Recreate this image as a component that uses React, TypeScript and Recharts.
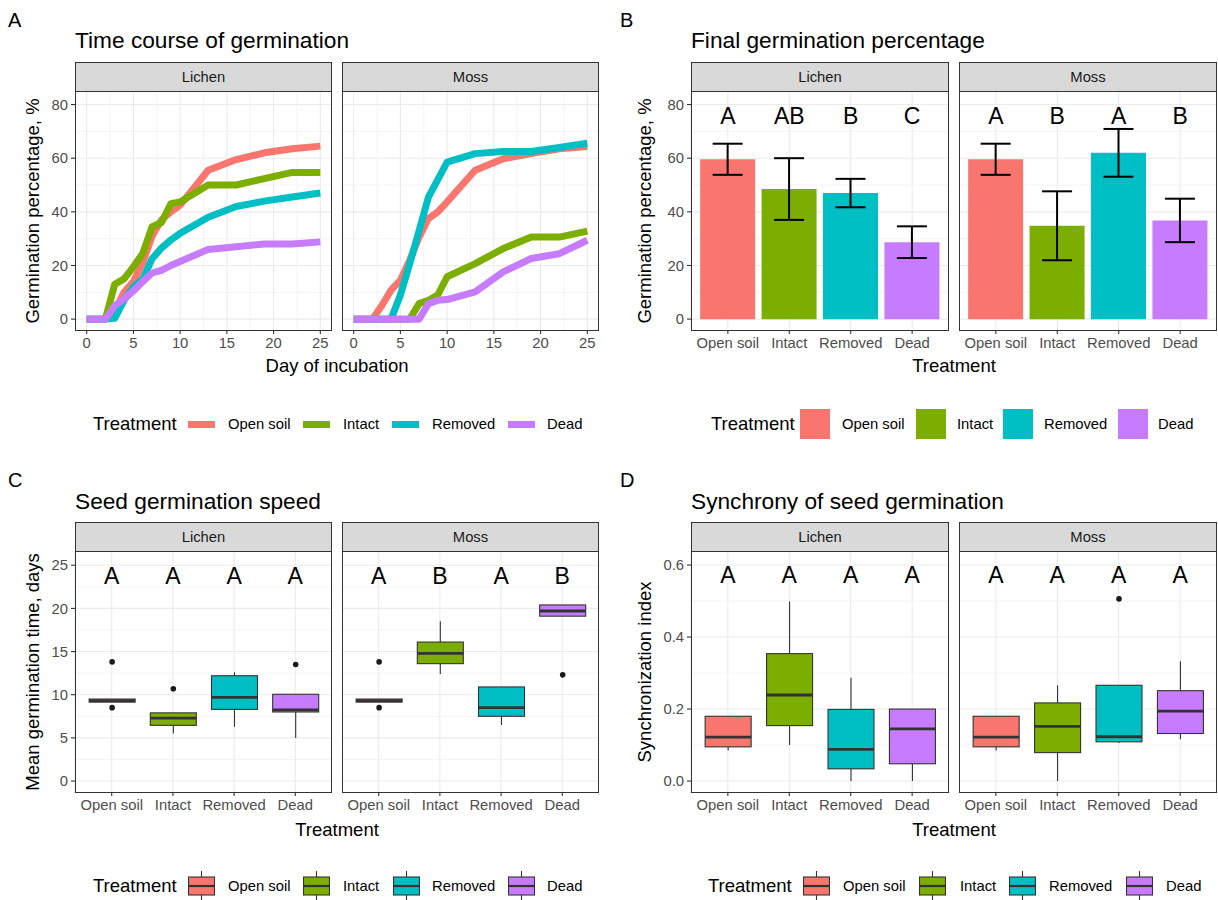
import React from 'react'
import {
  Bar,
  CartesianGrid,
  Cell,
  ComposedChart,
  ErrorBar,
  Line,
  LineChart,
  Scatter,
  XAxis,
  YAxis,
} from 'recharts'

const FONT = '"Liberation Sans", Arial, Helvetica, sans-serif'

const treatments = ['Open soil', 'Intact', 'Removed', 'Dead']
const treatmentColors = ['#F8766D', '#7CAE00', '#00BFC4', '#C77CFF']
const seriesKeys = ['openSoil', 'intact', 'removed', 'dead']

// A - time course of germination (%)
const days = [0, 1, 2, 3, 4, 5, 6, 7, 8, 9, 10, 13, 16, 19, 22, 25]
const lichenOpenSoil = [0, 0, 0, 3, 10, 14, 21, 31, 37, 40, 42.5, 55.5, 59.5, 62, 63.5, 64.5]
const lichenIntact = [0, 0, 0, 13, 15, 19.5, 24.5, 34.5, 36, 43, 43.7, 50, 50, 52.4, 54.7, 54.7]
const lichenRemoved = [0, 0, 0, 0.3, 7, 12, 15, 22.5, 26.5, 29.5, 32, 38, 42, 44, 45.5, 47]
const lichenDead = [0, 0, 0, 5, 7.5, 10.5, 14, 17.2, 18.2, 20, 21.5, 26, 27, 28, 28, 28.8]
const mossOpenSoil = [0, 0, 0, 5, 10.8, 14.5, 22, 30.6, 37.5, 40, 43.7, 55.5, 59.8, 61.7, 63.5, 64.4]
const mossIntact = [0, 0, 0, 0, 0, 0, 0, 5.8, 7, 9, 15.8, 20.7, 26.3, 30.6, 30.6, 32.8]
const mossRemoved = [0, 0, 0, 0, 0, 9, 20.7, 33, 45.5, 52, 58.5, 61.7, 62.5, 62.5, 64, 65.6]
const mossDead = [0, 0, 0, 0, 0, 0, 0, 0, 5.8, 7, 7.3, 10.2, 17.6, 22.6, 24.4, 29.4]
const dayTicks = [0, 5, 10, 15, 20, 25]
const dayMinor = [2.5, 7.5, 12.5, 17.5, 22.5]

// B - final germination percentage
const finalLichenMean = [59.6, 48.5, 47, 28.7]
const finalLichenErr = [5.8, 11.5, 5.3, 5.9]
const finalLichenLetters = ['A', 'AB', 'B', 'C']
const finalMossMean = [59.6, 34.8, 62, 36.8]
const finalMossErr = [5.8, 12.85, 8.9, 8.1]
const finalMossLetters = ['A', 'B', 'A', 'B']
const pctTicks = [0, 20, 40, 60, 80]
const pctMinor = [10, 30, 50, 70]

// C - mean germination time (days), box stats
const mgtLichenLow = [9.15, 5.5, 6.3, 5.0]
const mgtLichenQ1 = [9.15, 6.45, 8.3, 8.0]
const mgtLichenMed = [9.3, 7.3, 9.7, 8.25]
const mgtLichenQ3 = [9.5, 7.9, 12.2, 10.05]
const mgtLichenHigh = [9.5, 7.9, 12.6, 10.05]
const mgtLichenOut = [[13.8, 8.5], [10.7], [], [13.5]]
const mgtLichenLetters = ['A', 'A', 'A', 'A']
const mgtMossLow = [9.15, 12.4, 6.5, 19.1]
const mgtMossQ1 = [9.15, 13.6, 7.5, 19.1]
const mgtMossMed = [9.3, 14.8, 8.5, 19.7]
const mgtMossQ3 = [9.5, 16.1, 10.9, 20.4]
const mgtMossHigh = [9.5, 18.5, 10.9, 20.4]
const mgtMossOut = [[13.8, 8.5], [], [], [12.3]]
const mgtMossLetters = ['A', 'B', 'A', 'B']
const mgtTicks = [0, 5, 10, 15, 20, 25]
const mgtMinor = [2.5, 7.5, 12.5, 17.5, 22.5]

// D - synchronization index, box stats
const synLichenLow = [0.085, 0.1, 0, 0]
const synLichenQ1 = [0.095, 0.154, 0.034, 0.048]
const synLichenMed = [0.122, 0.239, 0.088, 0.145]
const synLichenQ3 = [0.18, 0.354, 0.199, 0.2]
const synLichenHigh = [0.18, 0.499, 0.287, 0.2]
const synLichenOut = [[], [], [], []]
const synLichenLetters = ['A', 'A', 'A', 'A']
const synMossLow = [0.085, 0, 0.106, 0.116]
const synMossQ1 = [0.095, 0.079, 0.109, 0.132]
const synMossMed = [0.122, 0.152, 0.123, 0.194]
const synMossQ3 = [0.18, 0.217, 0.266, 0.251]
const synMossHigh = [0.18, 0.266, 0.266, 0.333]
const synMossOut = [[], [], [0.506], []]
const synMossLetters = ['A', 'A', 'A', 'A']
const synTicks = [0, 0.2, 0.4, 0.6]
const synMinor = [0.1, 0.3, 0.5]

// layout
const YW = 45
const XH = 40
const LEFT = { lichen: 75, moss: 342, w: 257, tag: 8, yTitle: 33, center: 337 }
const RIGHT = { lichen: 691, moss: 959, w: 258, tag: 620, yTitle: 645, center: 954 }
const ROW1 = { tag: 20, title: 40, strip: 62, plotTop: 91, plotBottom: 330, axisTitle: 366, legend: 424 }
const ROW2 = { tag: 480, title: 501, strip: 522, plotTop: 551, plotBottom: 792, axisTitle: 830, legend: 886 }

const tickText = { fill: '#4d4d4d', fontSize: 14.8, fontFamily: FONT }
const tickLineStyle = { stroke: '#333333', strokeWidth: 1.1 }
const margin = { top: 0, right: 0, bottom: 0, left: 0 }

function Txt({ x, y, size, color = '#000', align = 'left', rotate = false, children }: any) {
  const tx = align === 'center' ? '-50%' : align === 'right' ? '-100%' : '0'
  return (
    <div
      style={{
        position: 'absolute',
        left: x,
        top: y,
        fontSize: size,
        lineHeight: 1,
        color,
        whiteSpace: 'nowrap',
        transform: rotate ? 'translate(-50%,-50%) rotate(-90deg)' : `translate(${tx},-50%)`,
      }}
    >
      {children}
    </div>
  )
}

function Strip({ x, top, w, label }: any) {
  return (
    <div
      style={{
        position: 'absolute',
        left: x,
        top,
        width: w,
        height: 30,
        boxSizing: 'border-box',
        background: '#d9d9d9',
        border: '1px solid #333',
        display: 'flex',
        alignItems: 'center',
        justifyContent: 'center',
        fontSize: 14.8,
        color: '#1a1a1a',
      }}
    >
      {label}
    </div>
  )
}

function Frame({ x, top, w, h }: any) {
  return (
    <div
      style={{
        position: 'absolute',
        left: x,
        top,
        width: w,
        height: h,
        boxSizing: 'border-box',
        border: '1px solid #333',
        pointerEvents: 'none',
      }}
    />
  )
}

const LetterShape = (props: any) => (
  <text
    x={props.cx}
    y={props.cy}
    textAnchor="middle"
    dominantBaseline="central"
    fontSize={23}
    fontFamily={FONT}
    fill="#000"
  >
    {props.payload.letter}
  </text>
)

const BoxShape = (props: any) => {
  const { x, y, width, height } = props
  const d = props.payload || props
  const [lo, hi] = d.span
  const top = Math.min(y, y + height)
  const hpx = Math.abs(height)
  const py = (v: number) => top + ((hi - v) / (hi - lo)) * hpx
  const cx = x + width / 2
  return (
    <g>
      <line x1={cx} x2={cx} y1={py(d.high)} y2={py(d.q3)} stroke="#333" strokeWidth={1.1} />
      <line x1={cx} x2={cx} y1={py(d.q1)} y2={py(d.low)} stroke="#333" strokeWidth={1.1} />
      <rect
        x={x}
        y={py(d.q3)}
        width={width}
        height={Math.max(py(d.q1) - py(d.q3), 0.5)}
        fill={d.color}
        stroke="#333"
        strokeWidth={1.1}
      />
      <line x1={x} x2={x + width} y1={py(d.median)} y2={py(d.median)} stroke="#333" strokeWidth={2.8} />
      {d.outliers.map((v: number, i: number) => (
        <circle key={i} cx={cx} cy={py(v)} r={2.8} fill="#1a1a1a" />
      ))}
    </g>
  )
}

function lineRows(series: number[][]) {
  return days.map((day, i) => {
    const row: any = { day }
    seriesKeys.forEach((k, j) => (row[k] = series[j][i]))
    return row
  })
}

function barRows(mean: number[], err: number[], letters: string[], letterY: number) {
  return treatments.map((t, i) => ({ treatment: t, mean: mean[i], err: err[i], letter: letters[i], letterY }))
}

function boxRows(low: number[], q1: number[], med: number[], q3: number[], high: number[], outs: number[][], letters: string[], letterY: number) {
  return treatments.map((t, i) => {
    const all = [low[i], high[i], ...outs[i]]
    return {
      treatment: t,
      color: treatmentColors[i],
      low: low[i],
      q1: q1[i],
      median: med[i],
      q3: q3[i],
      high: high[i],
      outliers: outs[i],
      span: [Math.min(...all), Math.max(...all)],
      letter: letters[i],
      letterY,
    }
  })
}

function yAxisEl(showY: boolean, domain: number[], ticks: number[], fmt?: (v: number) => string) {
  return (
    <YAxis
      type="number"
      hide={!showY}
      width={YW}
      domain={domain}
      ticks={ticks}
      allowDataOverflow
      interval={0}
      axisLine={false}
      tickLine={tickLineStyle}
      tickSize={4}
      tickMargin={3}
      tick={tickText}
      tickFormatter={fmt}
    />
  )
}

function catXAxis(w: number) {
  const pad = (w - (w / 4.2) * 4) / 2
  return (
    <XAxis
      dataKey="treatment"
      type="category"
      padding={{ left: pad, right: pad }}
      interval={0}
      height={XH}
      axisLine={false}
      tickLine={tickLineStyle}
      tickSize={4}
      tickMargin={3}
      tick={tickText}
    />
  )
}

function LineFacet({ x, row, w, showY, rows }: any) {
  const yw = showY ? YW : 0
  const h = row.plotBottom - row.plotTop
  return (
    <div style={{ position: 'absolute', left: x - yw, top: row.plotTop }}>
      <LineChart width={w + yw} height={h + XH} data={rows} margin={margin}>
        <CartesianGrid stroke="#ebebeb" strokeWidth={0.55} horizontalValues={pctMinor} verticalValues={dayMinor} />
        <CartesianGrid stroke="#ebebeb" strokeWidth={1.1} horizontalValues={pctTicks} verticalValues={dayTicks} />
        <XAxis
          type="number"
          dataKey="day"
          domain={[-1.25, 26.25]}
          ticks={dayTicks}
          allowDataOverflow
          interval={0}
          height={XH}
          axisLine={false}
          tickLine={tickLineStyle}
          tickSize={4}
          tickMargin={3}
          tick={tickText}
        />
        {yAxisEl(showY, [-4.05, 85.05], pctTicks)}
        {seriesKeys.map((k, i) => (
          <Line
            key={k}
            type="linear"
            dataKey={k}
            stroke={treatmentColors[i]}
            strokeWidth={7}
            strokeLinejoin="round"
            dot={false}
            activeDot={false}
            isAnimationActive={false}
          />
        ))}
      </LineChart>
    </div>
  )
}

function BarFacet({ x, row, w, showY, rows }: any) {
  const yw = showY ? YW : 0
  const h = row.plotBottom - row.plotTop
  return (
    <div style={{ position: 'absolute', left: x - yw, top: row.plotTop }}>
      <ComposedChart width={w + yw} height={h + XH} data={rows} margin={margin}>
        <CartesianGrid stroke="#ebebeb" strokeWidth={0.55} horizontalValues={pctMinor} vertical={false} />
        <CartesianGrid stroke="#ebebeb" strokeWidth={1.1} horizontalValues={pctTicks} />
        {catXAxis(w)}
        {yAxisEl(showY, [-4.05, 85.05], pctTicks)}
        <Bar dataKey="mean" barSize={Math.round((w / 4.2) * 0.9)} isAnimationActive={false}>
          {rows.map((_: any, i: number) => (
            <Cell key={i} fill={treatmentColors[i]} />
          ))}
          <ErrorBar dataKey="err" width={15} stroke="#000" strokeWidth={2} isAnimationActive={false} />
        </Bar>
        <Scatter dataKey="letterY" shape={LetterShape} isAnimationActive={false} />
      </ComposedChart>
    </div>
  )
}

function BoxFacet({ x, row, w, showY, rows, domain, ticks, minor, fmt }: any) {
  const yw = showY ? YW : 0
  const h = row.plotBottom - row.plotTop
  return (
    <div style={{ position: 'absolute', left: x - yw, top: row.plotTop }}>
      <ComposedChart width={w + yw} height={h + XH} data={rows} margin={margin}>
        <CartesianGrid stroke="#ebebeb" strokeWidth={0.55} horizontalValues={minor} vertical={false} />
        <CartesianGrid stroke="#ebebeb" strokeWidth={1.1} horizontalValues={ticks} />
        {catXAxis(w)}
        {yAxisEl(showY, domain, ticks, fmt)}
        <Bar dataKey="span" barSize={Math.round((w / 4.2) * 0.75)} shape={BoxShape} isAnimationActive={false} />
        <Scatter dataKey="letterY" shape={LetterShape} isAnimationActive={false} />
      </ComposedChart>
    </div>
  )
}

function LineKey({ color }: any) {
  return <div style={{ width: 27, height: 7, background: color }} />
}
function FillKey({ color }: any) {
  return <div style={{ width: 30, height: 30, background: color }} />
}
function BoxKey({ color }: any) {
  return (
    <svg width={27} height={30} style={{ display: 'block' }}>
      <line x1={13.5} x2={13.5} y1={0} y2={30} stroke="#333" strokeWidth={1.1} />
      <rect x={0.5} y={6} width={26} height={18} fill={color} stroke="#333" strokeWidth={1.1} />
      <line x1={0.5} x2={26.5} y1={15} y2={15} stroke="#333" strokeWidth={2.2} />
    </svg>
  )
}

function LegendRow({ y, titleX, keyXs, labelXs, Key, keyH }: any) {
  return (
    <>
      <Txt x={titleX} y={y} size={18.5}>
        Treatment
      </Txt>
      {treatments.map((t, i) => (
        <React.Fragment key={t}>
          <div style={{ position: 'absolute', left: keyXs[i], top: y - keyH / 2 }}>
            <Key color={treatmentColors[i]} />
          </div>
          <Txt x={labelXs[i]} y={y} size={14.8}>
            {t}
          </Txt>
        </React.Fragment>
      ))}
    </>
  )
}

function PanelFrame({ col, row, tag, title, yTitle, xTitle }: any) {
  const h = row.plotBottom - row.plotTop
  return (
    <>
      <Txt x={col.tag} y={row.tag} size={20}>
        {tag}
      </Txt>
      <Txt x={col.lichen} y={row.title} size={22.7}>
        {title}
      </Txt>
      <Strip x={col.lichen} top={row.strip} w={col.w} label="Lichen" />
      <Strip x={col.moss} top={row.strip} w={col.w} label="Moss" />
      <Txt x={col.yTitle} y={(row.plotTop + row.plotBottom) / 2} size={18.5} rotate>
        {yTitle}
      </Txt>
      <Txt x={col.center} y={row.axisTitle} size={18.5} align="center">
        {xTitle}
      </Txt>
      <Frame x={col.lichen} top={row.plotTop} w={col.w} h={h + 1} />
      <Frame x={col.moss} top={row.plotTop} w={col.w} h={h + 1} />
    </>
  )
}

export default function App() {
  const aLichen = lineRows([lichenOpenSoil, lichenIntact, lichenRemoved, lichenDead])
  const aMoss = lineRows([mossOpenSoil, mossIntact, mossRemoved, mossDead])
  const bLichen = barRows(finalLichenMean, finalLichenErr, finalLichenLetters, 75.9)
  const bMoss = barRows(finalMossMean, finalMossErr, finalMossLetters, 75.9)
  const cLichen = boxRows(mgtLichenLow, mgtLichenQ1, mgtLichenMed, mgtLichenQ3, mgtLichenHigh, mgtLichenOut, mgtLichenLetters, 23.7)
  const cMoss = boxRows(mgtMossLow, mgtMossQ1, mgtMossMed, mgtMossQ3, mgtMossHigh, mgtMossOut, mgtMossLetters, 23.7)
  const dLichen = boxRows(synLichenLow, synLichenQ1, synLichenMed, synLichenQ3, synLichenHigh, synLichenOut, synLichenLetters, 0.572)
  const dMoss = boxRows(synMossLow, synMossQ1, synMossMed, synMossQ3, synMossHigh, synMossOut, synMossLetters, 0.572)
  const mgtDomain = [-1.27, 26.65]
  const synDomain = [-0.0304, 0.639]
  const fmt1 = (v: number) => v.toFixed(1)

  return (
    <div
      style={{
        position: 'absolute',
        left: 0,
        top: 0,
        width: 1218,
        height: 900,
        overflow: 'hidden',
        background: '#fff',
        fontFamily: FONT,
        color: '#000',
      }}
    >
      {/* A */}
      <LineFacet x={LEFT.lichen} row={ROW1} w={LEFT.w} showY rows={aLichen} />
      <LineFacet x={LEFT.moss} row={ROW1} w={LEFT.w} showY={false} rows={aMoss} />
      <PanelFrame col={LEFT} row={ROW1} tag="A" title="Time course of germination" yTitle="Germination percentage, %" xTitle="Day of incubation" />
      <LegendRow y={ROW1.legend} titleX={93} keyXs={[188, 303, 392, 508]} labelXs={[228, 343, 432, 547]} Key={LineKey} keyH={7} />

      {/* B */}
      <BarFacet x={RIGHT.lichen} row={ROW1} w={RIGHT.w} showY rows={bLichen} />
      <BarFacet x={RIGHT.moss} row={ROW1} w={RIGHT.w} showY={false} rows={bMoss} />
      <PanelFrame col={RIGHT} row={ROW1} tag="B" title="Final germination percentage" yTitle="Germination percentage, %" xTitle="Treatment" />
      <LegendRow y={ROW1.legend} titleX={711} keyXs={[800, 916, 1003, 1118]} labelXs={[842, 957, 1044, 1158]} Key={FillKey} keyH={30} />

      {/* C */}
      <BoxFacet x={LEFT.lichen} row={ROW2} w={LEFT.w} showY rows={cLichen} domain={mgtDomain} ticks={mgtTicks} minor={mgtMinor} />
      <BoxFacet x={LEFT.moss} row={ROW2} w={LEFT.w} showY={false} rows={cMoss} domain={mgtDomain} ticks={mgtTicks} minor={mgtMinor} />
      <PanelFrame col={LEFT} row={ROW2} tag="C" title="Seed germination speed" yTitle="Mean germination time, days" xTitle="Treatment" />
      <LegendRow y={ROW2.legend} titleX={93} keyXs={[188, 303, 393, 508]} labelXs={[228, 343, 432, 547]} Key={BoxKey} keyH={30} />

      {/* D */}
      <BoxFacet x={RIGHT.lichen} row={ROW2} w={RIGHT.w} showY rows={dLichen} domain={synDomain} ticks={synTicks} minor={synMinor} fmt={fmt1} />
      <BoxFacet x={RIGHT.moss} row={ROW2} w={RIGHT.w} showY={false} rows={dMoss} domain={synDomain} ticks={synTicks} minor={synMinor} fmt={fmt1} />
      <PanelFrame col={RIGHT} row={ROW2} tag="D" title="Synchrony of seed germination" yTitle="Synchronization index" xTitle="Treatment" />
      <LegendRow y={ROW2.legend} titleX={708} keyXs={[803, 919, 1009, 1126]} labelXs={[843, 960, 1049, 1166]} Key={BoxKey} keyH={30} />
    </div>
  )
}
